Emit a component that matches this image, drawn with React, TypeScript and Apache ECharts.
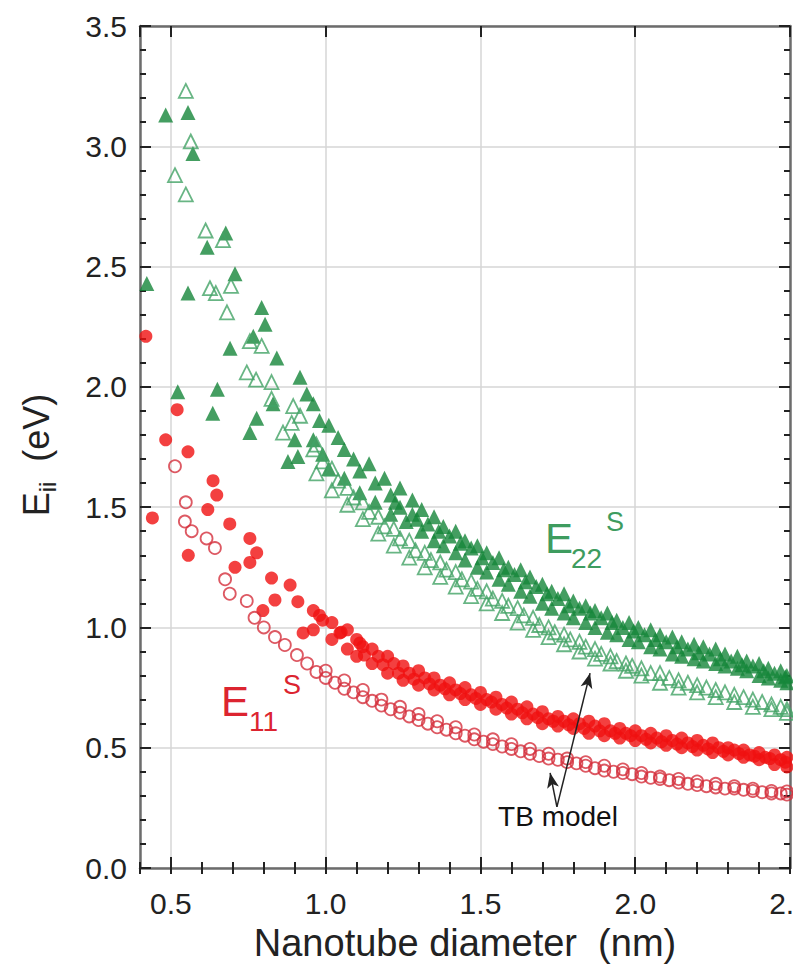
import React, { useEffect, useRef } from 'react';
import * as echarts from 'echarts';

const FONT = '"Liberation Sans", Arial, Helvetica, sans-serif';

// Nanotube diameter (nm) vs transition energy (eV)
const e22Exp: [number, number][] = [
  [0.422,2.43],[0.483,3.13],[0.555,3.14],[0.571,2.97],[0.522,1.98],[0.555,2.39],[0.617,2.58],[0.677,2.64],
  [0.65,1.99],[0.635,1.89],[0.707,2.47],[0.691,2.16],[0.766,2.21],[0.793,2.33],[0.804,2.26],[0.842,2.12],
  [0.777,1.87],[0.755,1.81],[0.83,1.93],[0.878,1.69],[0.91,1.71],[0.917,2.04],[0.939,1.97],[0.98,1.86],[0.9,1.78],
  [0.96,1.93],[0.96,1.78],[0.99,1.72],[1.01,1.84],[1.01,1.66],[1.04,1.79],[1.06,1.62],[1.06,1.74],[1.09,1.70],
  [1.11,1.65],[1.11,1.56],[1.14,1.68],[1.16,1.60],[1.16,1.52],[1.19,1.62],[1.21,1.55],[1.21,1.47],[1.24,1.58],
  [1.24,1.50],[1.26,1.44],[1.28,1.53],[1.28,1.47],[1.31,1.49],[1.31,1.40],[1.33,1.43],[1.35,1.46],[1.35,1.36],
  [1.38,1.42],[1.38,1.34],[1.40,1.38],[1.42,1.40],[1.42,1.31],[1.45,1.36],[1.45,1.28],[1.47,1.33],[1.49,1.34],
  [1.49,1.25],[1.52,1.31],[1.52,1.23],[1.54,1.27],[1.56,1.29],[1.56,1.20],[1.59,1.25],[1.59,1.18],[1.61,1.22],
  [1.63,1.24],[1.63,1.15],[1.66,1.21],[1.66,1.13],[1.68,1.17],[1.70,1.18],[1.70,1.10],[1.73,1.15],[1.73,1.08],
  [1.75,1.12],[1.77,1.14],[1.77,1.06],[1.80,1.11],[1.80,1.04],[1.82,1.08],[1.84,1.09],[1.84,1.02],[1.87,1.07],
  [1.87,1.00],[1.89,1.04],[1.91,1.06],[1.91,0.98],[1.94,1.03],[1.94,0.97],[1.96,1.00],[1.98,1.02],[1.98,0.95],
  [2.01,1.00],[2.01,0.94],[2.03,0.97],[2.05,0.99],[2.05,0.92],[2.08,0.97],[2.08,0.91],[2.10,0.94],[2.12,0.96],
  [2.12,0.89],[2.15,0.94],[2.15,0.88],[2.17,0.91],[2.19,0.93],[2.19,0.87],[2.22,0.92],[2.22,0.86],[2.24,0.89],
  [2.26,0.91],[2.26,0.85],[2.29,0.89],[2.29,0.84],[2.31,0.86],[2.33,0.88],[2.33,0.83],[2.36,0.86],[2.36,0.82],
  [2.38,0.84],[2.40,0.85],[2.40,0.80],[2.43,0.83],[2.43,0.79],[2.45,0.81],[2.47,0.82],[2.47,0.78],[2.49,0.80],[2.49,0.77],
  [1.225,1.52],[1.295,1.45],[1.365,1.40],[1.435,1.35],[1.505,1.29],[1.575,1.24],[1.645,1.19],[1.715,1.14],
  [1.785,1.09],[1.855,1.06],[1.925,1.02],[1.995,0.985],[2.065,0.95],[2.135,0.92],[2.205,0.895],[2.275,0.87],
  [2.345,0.845],[2.415,0.82],[2.485,0.795],
];

const e22Tb: [number, number][] = [
  [0.548,3.23],[0.564,3.02],[0.513,2.88],[0.548,2.80],[0.612,2.65],[0.668,2.61],[0.694,2.42],[0.626,2.41],
  [0.645,2.39],[0.681,2.31],[0.755,2.19],[0.793,2.17],[0.745,2.06],[0.775,2.03],[0.825,2.02],[0.825,1.95],
  [0.895,1.92],[0.917,1.88],[0.862,1.81],[0.96,1.74],[0.89,1.85],
  [0.97,1.76],[0.97,1.64],[0.99,1.69],[1.02,1.66],[1.02,1.57],[1.04,1.61],[1.07,1.58],[1.07,1.51],[1.09,1.54],
  [1.12,1.52],[1.12,1.45],[1.14,1.48],[1.17,1.46],[1.17,1.39],[1.19,1.42],[1.22,1.41],[1.22,1.34],[1.24,1.37],
  [1.27,1.36],[1.27,1.29],[1.29,1.32],[1.32,1.31],[1.32,1.25],[1.34,1.28],[1.37,1.27],[1.37,1.21],[1.39,1.24],
  [1.42,1.23],[1.42,1.17],[1.44,1.20],[1.47,1.19],[1.47,1.13],[1.49,1.16],[1.52,1.15],[1.52,1.10],[1.54,1.12],
  [1.57,1.11],[1.57,1.06],[1.59,1.09],[1.62,1.08],[1.62,1.02],[1.64,1.05],[1.67,1.04],[1.67,0.99],[1.69,1.01],
  [1.72,1.00],[1.72,0.96],[1.74,0.98],[1.77,0.97],[1.77,0.93],[1.79,0.95],[1.82,0.94],[1.82,0.90],[1.84,0.92],
  [1.87,0.91],[1.87,0.87],[1.89,0.89],[1.92,0.88],[1.92,0.85],[1.94,0.86],[1.97,0.85],[1.97,0.82],[1.99,0.84],
  [2.02,0.83],[2.02,0.80],[2.05,0.81],[2.08,0.81],[2.08,0.77],[2.11,0.79],[2.14,0.78],[2.14,0.75],[2.17,0.77],
  [2.20,0.76],[2.20,0.73],[2.23,0.75],[2.26,0.74],[2.26,0.71],[2.29,0.73],[2.32,0.72],[2.32,0.69],[2.35,0.71],
  [2.38,0.70],[2.38,0.67],[2.41,0.69],[2.44,0.68],[2.44,0.66],[2.47,0.67],[2.49,0.66],[2.49,0.645],
];

const e11Exp: [number, number][] = [
  [0.419,2.21],[0.52,1.905],[0.483,1.78],[0.555,1.73],[0.636,1.61],[0.648,1.55],[0.619,1.49],[0.44,1.455],
  [0.69,1.43],[0.556,1.30],[0.755,1.37],[0.777,1.31],[0.755,1.27],[0.707,1.25],[0.825,1.205],[0.885,1.176],
  [0.91,1.107],[0.836,1.114],[0.797,1.07],[0.98,1.05],[0.927,0.977],[1.046,0.977],[1.11,0.935],
  [0.96,1.07],[0.96,0.99],[0.99,1.03],[1.02,1.02],[1.02,0.95],[1.05,0.98],[1.07,0.99],[1.07,0.91],[1.10,0.95],
  [1.10,0.88],[1.12,0.92],[1.15,0.91],[1.15,0.85],[1.17,0.88],[1.20,0.88],[1.20,0.81],[1.22,0.85],[1.25,0.84],
  [1.25,0.78],[1.27,0.81],[1.30,0.82],[1.30,0.76],[1.32,0.79],[1.35,0.79],[1.35,0.74],[1.37,0.76],[1.40,0.77],
  [1.40,0.72],[1.42,0.74],[1.45,0.75],[1.45,0.70],[1.47,0.72],[1.50,0.73],[1.50,0.68],[1.52,0.70],[1.55,0.71],
  [1.55,0.66],[1.57,0.68],[1.60,0.69],[1.60,0.64],[1.62,0.66],[1.65,0.67],[1.65,0.62],[1.67,0.64],[1.70,0.65],
  [1.70,0.60],[1.72,0.62],[1.75,0.63],[1.75,0.59],[1.77,0.61],[1.80,0.62],[1.80,0.58],[1.82,0.60],[1.85,0.61],
  [1.85,0.56],[1.87,0.59],[1.90,0.60],[1.90,0.55],[1.92,0.57],[1.95,0.58],[1.95,0.54],[1.97,0.56],[2.00,0.57],
  [2.00,0.53],[2.02,0.55],[2.05,0.56],[2.05,0.52],[2.07,0.54],[2.10,0.55],[2.10,0.51],[2.12,0.53],[2.15,0.54],
  [2.15,0.50],[2.17,0.52],[2.20,0.53],[2.20,0.49],[2.22,0.51],[2.25,0.52],[2.25,0.48],[2.27,0.50],[2.30,0.50],
  [2.30,0.47],[2.32,0.49],[2.35,0.49],[2.35,0.46],[2.37,0.47],[2.40,0.48],[2.40,0.45],[2.42,0.46],[2.45,0.47],
  [2.45,0.43],[2.47,0.45],[2.49,0.46],[2.49,0.42],
  [1.125,0.885],[1.185,0.845],[1.235,0.81],[1.285,0.785],[1.335,0.765],[1.385,0.745],[1.435,0.725],[1.485,0.705],
  [1.535,0.69],[1.585,0.665],[1.635,0.645],[1.685,0.625],[1.735,0.61],[1.785,0.595],[1.835,0.58],[1.885,0.57],
  [1.935,0.56],[1.985,0.55],[2.035,0.535],[2.085,0.525],[2.135,0.515],[2.185,0.505],[2.235,0.495],[2.285,0.485],
  [2.335,0.475],[2.385,0.465],[2.435,0.455],[2.485,0.44],
];

const e11Tb: [number, number][] = [
  [0.513,1.67],[0.548,1.52],[0.545,1.44],[0.567,1.40],[0.615,1.37],[0.642,1.33],[0.675,1.20],[0.69,1.14],
  [0.745,1.11],[0.77,1.04],[0.80,1.00],[0.836,0.96],[0.868,0.927],[0.907,0.885],[0.94,0.85],[0.97,0.815],
  [1.00,0.79],[1.00,0.82],[1.03,0.77],[1.06,0.745],[1.06,0.78],[1.09,0.73],[1.12,0.71],[1.12,0.74],[1.15,0.695],
  [1.18,0.675],[1.18,0.70],[1.21,0.66],[1.24,0.645],[1.24,0.67],[1.27,0.63],[1.30,0.615],[1.30,0.64],[1.33,0.60],
  [1.36,0.585],[1.36,0.61],[1.39,0.575],[1.42,0.56],[1.42,0.585],[1.45,0.55],[1.48,0.535],[1.48,0.555],[1.51,0.525],
  [1.54,0.515],[1.54,0.535],[1.57,0.505],[1.60,0.495],[1.60,0.515],[1.63,0.485],[1.66,0.475],[1.66,0.495],[1.69,0.465],
  [1.72,0.455],[1.72,0.475],[1.75,0.45],[1.78,0.44],[1.78,0.455],[1.81,0.435],[1.84,0.425],[1.84,0.44],[1.87,0.415],
  [1.90,0.405],[1.90,0.425],[1.93,0.40],[1.96,0.395],[1.96,0.41],[1.99,0.39],[2.02,0.38],[2.02,0.395],[2.05,0.375],
  [2.08,0.37],[2.08,0.38],[2.11,0.365],[2.14,0.355],[2.14,0.37],[2.17,0.35],[2.20,0.345],[2.20,0.36],[2.23,0.34],
  [2.26,0.335],[2.26,0.35],[2.29,0.33],[2.32,0.33],[2.32,0.34],[2.35,0.325],[2.38,0.32],[2.38,0.33],[2.41,0.315],
  [2.44,0.31],[2.44,0.32],[2.47,0.31],[2.49,0.305],[2.49,0.318],
];

// "TB model" arrows (data coordinates: start, end)
const tbArrows: [number, number][][] = [
  [[1.747, 0.254], [1.854, 0.81]],
  [[1.747, 0.254], [1.725, 0.395]],
];

const fmt = (v: number) => (v < 0.45 && v > 0.35 ? '' : v.toFixed(1));

const axisLineStyle = { color: '#6c6c6c', width: 2.5 };
const tickStyle = { color: '#222', width: 2 };

const option: any = {
  animation: false,
  backgroundColor: '#ffffff',
  grid: { left: 140, right: 3, top: 26, bottom: 105, containLabel: false, outerBoundsMode: 'none' },
  xAxis: [
    {
      type: 'value', min: 0.4, max: 2.5, position: 'bottom',
      axisLine: { show: true, onZero: false, lineStyle: axisLineStyle },
      axisTick: { show: true, inside: true, length: 11, lineStyle: tickStyle },
      axisLabel: { show: true, showMinLabel: false, formatter: fmt, fontSize: 30, color: '#222', fontFamily: FONT, margin: 20 },
      splitLine: { show: true, lineStyle: { color: '#d6d6d6', width: 1.5 } },
      name: 'Nanotube diameter  (nm)', nameLocation: 'middle', nameGap: 56,
      nameTextStyle: { fontSize: 38, color: '#222', fontFamily: FONT },
    },
    {
      type: 'value', min: 0.4, max: 2.5, interval: 0.1, position: 'bottom',
      axisLine: { show: false }, axisLabel: { show: false }, splitLine: { show: false },
      axisTick: { show: true, inside: true, length: 6, lineStyle: tickStyle },
    },
    {
      type: 'value', min: 0.4, max: 2.5, position: 'top',
      axisLine: { show: true, onZero: false, lineStyle: axisLineStyle },
      axisTick: { show: true, inside: true, length: 11, lineStyle: tickStyle },
      axisLabel: { show: false }, splitLine: { show: false },
    },
    {
      type: 'value', min: 0.4, max: 2.5, interval: 0.1, position: 'top',
      axisLine: { show: false }, axisLabel: { show: false }, splitLine: { show: false },
      axisTick: { show: true, inside: true, length: 6, lineStyle: tickStyle },
    },
  ],
  yAxis: [
    {
      type: 'value', min: 0, max: 3.5, interval: 0.5, position: 'left',
      axisLine: { show: true, onZero: false, lineStyle: axisLineStyle },
      axisTick: { show: true, inside: true, length: 11, lineStyle: tickStyle },
      minorTick: { show: true, splitNumber: 5, length: 6, lineStyle: tickStyle },
      axisLabel: { show: true, formatter: (v: number) => v.toFixed(1), fontSize: 30, color: '#222', fontFamily: FONT, margin: 13 },
      splitLine: { show: true, lineStyle: { color: '#d6d6d6', width: 1.5 } },
    },
    {
      type: 'value', min: 0, max: 3.5, interval: 0.5, position: 'right',
      axisLine: { show: true, onZero: false, lineStyle: axisLineStyle },
      axisTick: { show: true, inside: true, length: 11, lineStyle: tickStyle },
      minorTick: { show: true, splitNumber: 5, length: 6, lineStyle: tickStyle },
      axisLabel: { show: false }, splitLine: { show: false },
    },
  ],
  series: [
    {
      type: 'scatter', name: 'E22 experiment', data: e22Exp, xAxisIndex: 0, yAxisIndex: 0,
      symbol: 'triangle', symbolSize: 15, silent: true,
      itemStyle: { color: '#15863a' },
    },
    {
      type: 'scatter', name: 'E22 TB model', data: e22Tb, xAxisIndex: 0, yAxisIndex: 0,
      symbol: 'triangle', symbolSize: 14, silent: true,
      itemStyle: { color: 'rgba(255,255,255,0)', borderColor: '#42a265', borderWidth: 1.8 },
    },
    {
      type: 'scatter', name: 'E11 experiment', data: e11Exp, xAxisIndex: 0, yAxisIndex: 0,
      symbol: 'circle', symbolSize: 13, silent: true,
      itemStyle: { color: '#f01010' },
    },
    {
      type: 'scatter', name: 'E11 TB model', data: e11Tb, xAxisIndex: 0, yAxisIndex: 0,
      symbol: 'circle', symbolSize: 12, silent: true,
      itemStyle: { color: 'rgba(255,255,255,0)', borderColor: '#d4303c', borderWidth: 1.8 },
      markLine: {
        silent: true, symbol: ['none', 'arrow'], symbolSize: [9, 15], animation: false,
        lineStyle: { color: '#222', width: 1.5, type: 'solid' },
        label: { show: false },
        data: tbArrows.map(([a, b]) => [{ coord: a }, { coord: b }]),
      },
    },
  ],
  graphic: [
    {
      type: 'text', x: 36, y: 455, rotation: Math.PI / 2,
      style: {
        text: '{e|E}{s|ii}{e|  (eV)}', align: 'center', verticalAlign: 'middle',
        rich: {
          e: { fontSize: 36, fontFamily: FONT, fill: '#222', lineHeight: 46, verticalAlign: 'middle' },
          s: { fontSize: 24, fontFamily: FONT, fill: '#222', lineHeight: 46, verticalAlign: 'bottom' },
        },
      },
    },
    { type: 'text', x: 545, y: 538, style: { text: 'E', fontSize: 42, fontFamily: FONT, fill: '#3e9c5f', align: 'left', verticalAlign: 'middle' } },
    { type: 'text', x: 571, y: 558, style: { text: '22', fontSize: 28, fontFamily: FONT, fill: '#3e9c5f', align: 'left', verticalAlign: 'middle' } },
    { type: 'text', x: 606, y: 522, style: { text: 'S', fontSize: 27, fontFamily: FONT, fill: '#3e9c5f', align: 'left', verticalAlign: 'middle' } },
    { type: 'text', x: 221, y: 701, style: { text: 'E', fontSize: 42, fontFamily: FONT, fill: '#dc2430', align: 'left', verticalAlign: 'middle' } },
    { type: 'text', x: 249, y: 721, style: { text: '11', fontSize: 28, fontFamily: FONT, fill: '#dc2430', align: 'left', verticalAlign: 'middle' } },
    { type: 'text', x: 283, y: 685, style: { text: 'S', fontSize: 27, fontFamily: FONT, fill: '#dc2430', align: 'left', verticalAlign: 'middle' } },
    { type: 'text', x: 558, y: 816, style: { text: 'TB model', fontSize: 28, fontFamily: FONT, fill: '#111', align: 'center', verticalAlign: 'middle' } },
  ],
};

export default function App() {
  const ref = useRef<HTMLDivElement>(null);
  useEffect(() => {
    document.body.style.margin = '0';
    const chart = echarts.init(ref.current!, null, { renderer: 'svg' });
    chart.setOption(option);
    return () => chart.dispose();
  }, []);
  return <div ref={ref} style={{ width: 793, height: 973, background: '#fff' }} />;
}
